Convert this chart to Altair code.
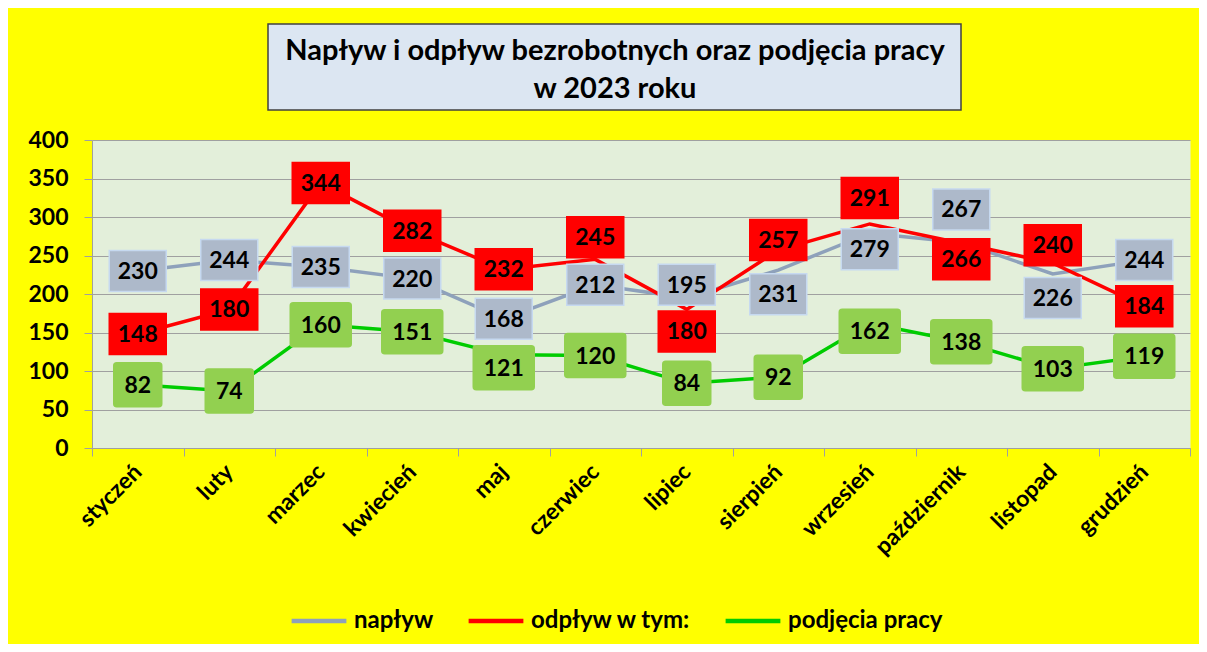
import altair as alt
import pandas as pd

months = ["styczeń", "luty", "marzec", "kwiecień", "maj", "czerwiec",
          "lipiec", "sierpień", "wrzesień", "październik", "listopad", "grudzień"]
series = ["napływ", "odpływ w tym:", "podjęcia pracy"]
naplyw = [230, 244, 235, 220, 168, 212, 195, 231, 279, 267, 226, 244]
odplyw = [148, 180, 344, 282, 232, 245, 180, 257, 291, 266, 240, 184]
podjecia = [82, 74, 160, 151, 121, 120, 84, 92, 162, 138, 103, 119]
y_ticks = [0, 50, 100, 150, 200, 250, 300, 350, 400]
title_lines = ["Napływ i odpływ bezrobotnych oraz podjęcia pracy", "w 2023 roku"]

# ---- style / layout (not data) ----
FONT = "Lato"
W, H = 1098, 308
line_colors = ["#8EA1BB", "#FF0000", "#00CC00"]
box_fill = {"napływ": "#ADB9CA", "odpływ w tym:": "#FF0000", "podjęcia pracy": "#92D050"}
box_stroke = {"napływ": "#C6D9F0", "odpływ w tym:": "#FF0000", "podjęcia pracy": "#92D050"}
# label displacement in pixels (positive = down), as Excel placed them
label_shift_px = {
    "napływ": [0, 0, 0, 0, 0, 0, -13, 24, 16, -33, 24, 0],
    "odpływ w tym:": [0, 0, 0, 0, 0, -22, 22, -10, -26, 16, -18, 0],
    "podjęcia pracy": [0, 0, 0, 0, 13, 0, 0, 0, 8, 0, 0, 0],
}
px_per_unit = H / 400.0


def box_path(name, v):
    if name == "podjęcia pracy":
        w = 48 if v < 100 else 61
        h = 44
        r = 3
        hw, hh = w / 2, h / 2
        return (f"M{-hw+r},{-hh}H{hw-r}Q{hw},{-hh} {hw},{-hh+r}V{hh-r}Q{hw},{hh} {hw-r},{hh}"
                f"H{-hw+r}Q{-hw},{hh} {-hw},{hh-r}V{-hh+r}Q{-hw},{-hh} {-hw+r},{-hh}Z")
    w, h = 57, 41
    hw, hh = w / 2, h / 2
    return f"M{-hw},{-hh}H{hw}V{hh}H{-hw}Z"


rows = []
for name, vals in zip(series, [naplyw, odplyw, podjecia]):
    for i, (m, v) in enumerate(zip(months, vals)):
        rows.append({
            "month": m, "series": name, "value": v, "month_idx": i,
            "label_pos": v - label_shift_px[name][i] / px_per_unit,
            "shape": box_path(name, v),
            "fillc": box_fill[name], "strokec": box_stroke[name],
        })
df = pd.DataFrame(rows)

x_scale = alt.Scale(domain=months, paddingInner=0, paddingOuter=0)
x_axis = alt.Axis(labelAngle=-45, labelAlign="right", labelBaseline="middle",
                  labelFont=FONT, labelFontSize=23, labelFontWeight="bold",
                  labelColor="black", labelPadding=12, tickBand="extent",
                  tickSize=8, tickColor="#A0A0A0", domainColor="#A0A0A0",
                  labelOverlap=False, grid=False, title=None)
y_scale = alt.Scale(domain=[0, 400], nice=False)
y_axis = alt.Axis(values=y_ticks, tickCount=9, labelFont=FONT, labelFontSize=23,
                  labelFontWeight="bold", labelColor="black", labelPadding=16,
                  labelOverlap=False, labelFlush=False,
                  tickSize=8, tickColor="#A0A0A0", domainColor="#A0A0A0",
                  gridColor="#A0A0A0", gridWidth=1.2, title=None)

base = alt.Chart(df)

lines = base.mark_line(strokeWidth=3.5).encode(
    x=alt.X("month:N", scale=x_scale, axis=x_axis, title=None),
    y=alt.Y("value:Q", scale=y_scale, axis=y_axis, title=None),
    color=alt.Color("series:N", scale=alt.Scale(domain=series, range=line_colors),
                    legend=alt.Legend(title=None, orient="none", direction="horizontal",
                                      legendX=197, legendY=451, symbolType="stroke",
                                      symbolSize=3000, symbolStrokeWidth=4.5,
                                      labelFont=FONT, labelFontSize=24,
                                      labelFontWeight="bold", labelColor="black",
                                      labelLimit=400, labelOffset=5, columnPadding=25)),
    order=alt.Order("month_idx:Q"),
)

boxes = base.mark_point(filled=True, opacity=1, size=4, strokeWidth=1.5).encode(
    x=alt.X("month:N", scale=x_scale, axis=x_axis, title=None),
    y=alt.Y("label_pos:Q", scale=y_scale, axis=y_axis, title=None),
    shape=alt.Shape("shape:N", scale=None),
    fill=alt.Fill("fillc:N", scale=None),
    stroke=alt.Stroke("strokec:N", scale=None),
)

labels = base.mark_text(font=FONT, fontSize=23, fontWeight="bold", color="black",
                        baseline="middle", align="center", dy=1).encode(
    x=alt.X("month:N", scale=x_scale, axis=x_axis, title=None),
    y=alt.Y("label_pos:Q", scale=y_scale, axis=y_axis, title=None),
    text=alt.Text("value:Q"),
)

deco = alt.Chart(pd.DataFrame({"k": [0]}))
title_box = deco.mark_rect(fill="#DCE6F2", stroke="#404040", strokeWidth=1.5).encode(
    x=alt.value(176), x2=alt.value(869), y=alt.value(-116), y2=alt.value(-30))
title1 = deco.mark_text(text=title_lines[0], font=FONT, fontSize=29, fontWeight="bold",
                        color="black", baseline="middle", align="center").encode(
    x=alt.value(523), y=alt.value(-89))
title2 = deco.mark_text(text=title_lines[1], font=FONT, fontSize=29, fontWeight="bold",
                        color="black", baseline="middle", align="center").encode(
    x=alt.value(523), y=alt.value(-51))

chart = alt.layer(title_box, title1, title2, lines, boxes, labels).properties(
    width=W, height=H,
    background="#FFFF00",
    padding={"left": 84, "top": 132, "right": 9, "bottom": 196},
    autosize=alt.AutoSizeParams(type="none"),
).configure_view(fill="#E3EFDA", stroke="transparent")

chart.save("out.html", embed_options={"renderer": "svg", "actions": False})
